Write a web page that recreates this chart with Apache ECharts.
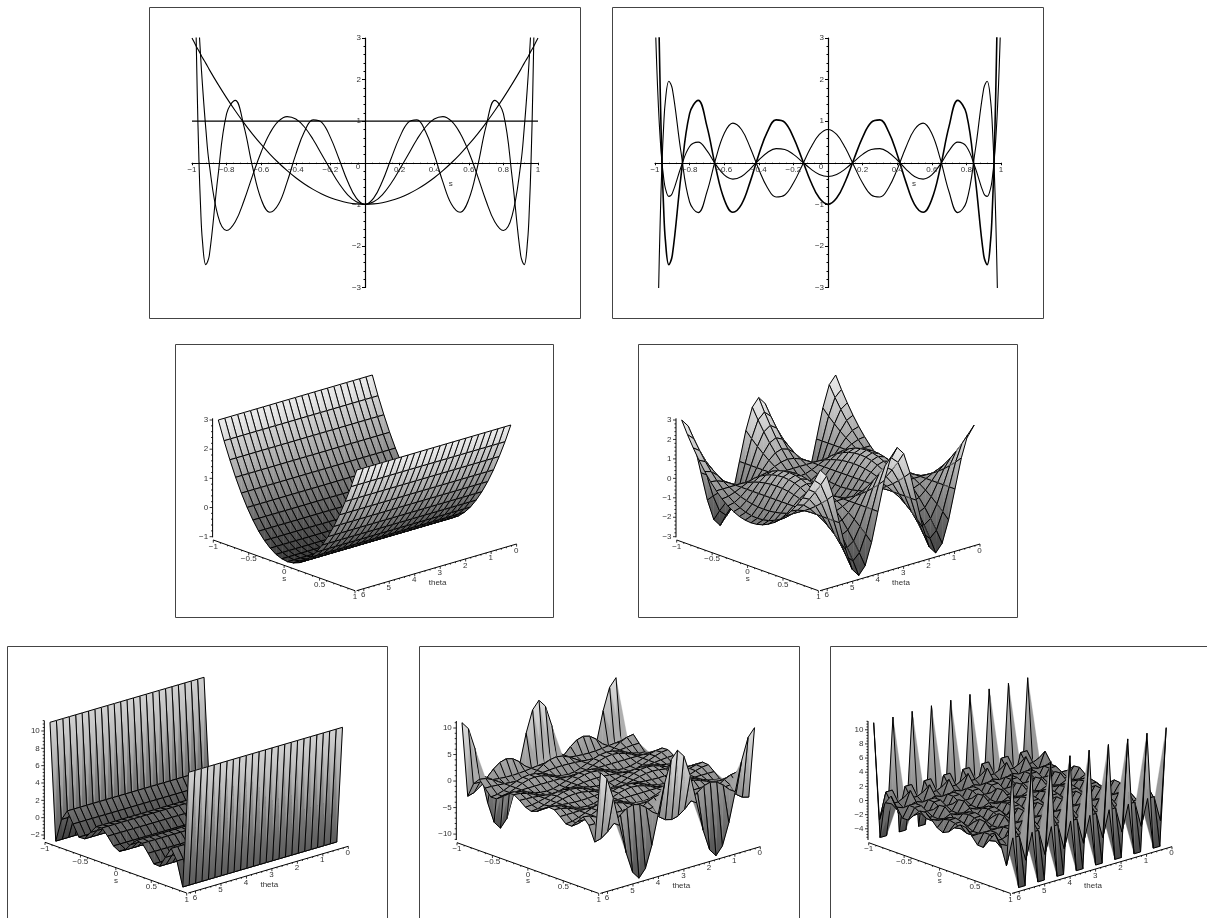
<!DOCTYPE html>
<html><head><meta charset="utf-8">
<style>html,body{margin:0;padding:0;background:#fff}#c{width:1207px;height:918px;filter:blur(0.3px)}</style>
<script src="https://cdn.jsdelivr.net/npm/echarts@6/dist/echarts.min.js"></script>
</head><body><div id="c"></div>
<script>
// ---- line plots: sample positions and curve values
const lineS = [-1,-0.99,-0.98,-0.97,-0.96,-0.95,-0.94,-0.92,-0.9,-0.85,-0.8,-0.75,-0.7,-0.65,-0.6,-0.55,-0.5,-0.45,-0.4,-0.35,-0.3,-0.25,-0.2,-0.15,-0.1,-0.05,0,0.05,0.1,0.15,0.2,0.25,0.3,0.35,0.4,0.45,0.5,0.55,0.6,0.65,0.7,0.75,0.8,0.85,0.9,0.92,0.94,0.95,0.96,0.97,0.98,0.99,1];
const flatLine = lineS.map(() => 1);
const parabola = [3,2.92,2.84,2.76,2.69,2.61,2.53,2.39,2.24,1.89,1.56,1.25,0.96,0.69,0.44,0.21,0,-0.19,-0.36,-0.51,-0.64,-0.75,-0.84,-0.91,-0.96,-0.99,-1,-0.99,-0.96,-0.91,-0.84,-0.75,-0.64,-0.51,-0.36,-0.19,0,0.21,0.44,0.69,0.96,1.25,1.56,1.89,2.24,2.39,2.53,2.61,2.69,2.76,2.84,2.92,3];
const waveSix = [7,5.93,4.95,4.07,3.27,2.55,1.9,0.81,-0.04,-1.28,-1.63,-1.42,-0.92,-0.31,0.26,0.71,1,1.11,1.05,0.86,0.56,0.2,-0.16,-0.5,-0.77,-0.94,-1,-0.94,-0.77,-0.5,-0.16,0.2,0.56,0.86,1.05,1.11,1,0.71,0.26,-0.31,-0.92,-1.42,-1.63,-1.28,-0.04,0.81,1.9,2.55,3.27,4.07,4.95,5.93,7];
const waveTen = [11,7.09,4.05,1.75,0.07,-1.1,-1.86,-2.45,-2.23,-0.33,1.18,1.5,0.88,-0.1,-0.88,-1.19,-1,-0.46,0.2,0.75,1.03,0.97,0.61,0.09,-0.45,-0.85,-1,-0.85,-0.45,0.09,0.61,0.97,1.03,0.75,0.2,-0.46,-1,-1.19,-0.88,-0.1,0.88,1.5,1.18,-0.33,-2.23,-2.45,-1.86,-1.1,0.07,1.75,4.05,7.09,11];
const rightFactors = [1, -0.8, 0.33];
const rightWidths = [1.6, 1.1, 1.1];

// ---- surfaces: grid positions and profile heights
const surfS = [-1,-0.917,-0.833,-0.75,-0.667,-0.583,-0.5,-0.417,-0.333,-0.25,-0.167,-0.083,0,0.083,0.167,0.25,0.333,0.417,0.5,0.583,0.667,0.75,0.833,0.917,1];
const surfTheta = [0,0.262,0.524,0.785,1.047,1.309,1.571,1.833,2.094,2.356,2.618,2.88,3.142,3.403,3.665,3.927,4.189,4.451,4.712,4.974,5.236,5.498,5.76,6.021,6.283];
const profileLow = [3,2.36,1.78,1.25,0.78,0.36,0,-0.31,-0.56,-0.75,-0.89,-0.97,-1,-0.97,-0.89,-0.75,-0.56,-0.31,0,0.36,0.78,1.25,1.78,2.36,3];
const profileHigh = [11,-2.46,0.29,1.5,0.23,-1.04,-1,-0.02,0.88,0.97,0.27,-0.61,-1,-0.61,0.27,0.97,0.88,-0.02,-1,-1.04,0.23,1.5,0.29,-2.46,11];
const thetaFlat = surfTheta.map(() => 1);
const thetaTwo = [1,0.866,0.5,0,-0.5,-0.866,-1,-0.866,-0.5,0,0.5,0.866,1,0.866,0.5,0,-0.5,-0.866,-1,-0.866,-0.5,0,0.5,0.866,1];
const thetaEight = [1,-0.5,-0.5,1,-0.5,-0.5,1,-0.5,-0.5,1,-0.5,-0.5,1,-0.5,-0.5,1,-0.5,-0.5,1,-0.5,-0.5,1,-0.5,-0.5,1];

// ---- tick labels
const lineXTicks = [-1,-0.8,-0.6,-0.4,-0.2,0,0.2,0.4,0.6,0.8,1];
const lineYTicks = [-3,-2,-1,0,1,2,3];
const sTicks = [-1,-0.5,0,0.5,1];
const thetaTicks = [0,1,2,3,4,5,6];
const zTicksA = [-1,0,1,2,3];
const zTicksB = [-3,-2,-1,0,1,2,3];
const zTicksC = [-2,0,2,4,6,8,10];
const zTicksD = [-10,-5,0,5,10];
const zTicksE = [-4,-2,0,2,4,6,8,10];

// ---- layout
const FONT = 'Liberation Sans';
const TXT = '#333';
const panels = [
  {f:[175,344,378,273], a:[218.3,420], sp:profileLow,  tp:thetaFlat,  z:[-1,3],        ticks:zTicksA, minor:0.2, wedge:false},
  {f:[638,344,379,273], a:[681.7,420], sp:profileLow,  tp:thetaTwo,   z:[-3,3],        ticks:zTicksB, minor:0.2, wedge:true},
  {f:[7,646,380,272],   a:[50,722.3],  sp:profileHigh, tp:thetaFlat,  z:[-2.46,11],    ticks:zTicksC, minor:0.4, wedge:false},
  {f:[419,646,380,272], a:[462,722.7], sp:profileHigh, tp:thetaTwo,   z:[-11,11],      ticks:zTicksD, minor:1,   wedge:true},
  {f:[830,646,377,272], a:[873.7,722.7],sp:profileHigh,tp:thetaEight, z:[-5.5,11],     ticks:zTicksE, minor:0.4, wedge:true}
];
const S_VEC = [138.5,50], T_VEC = [154,-45], Z_SPAN = 116.7;
const TWO_PI = 6.283;
const fmt = v => String(v).replace('-', '\u2212');

function project(p, s, t, z) {
  const k = Z_SPAN / (p.z[1] - p.z[0]);
  const a = (s + 1) / 2, b = (TWO_PI - t) / TWO_PI;
  return [p.a[0] - p.f[0] + a * S_VEC[0] + b * T_VEC[0],
          p.a[1] - p.f[1] + a * S_VEC[1] + b * T_VEC[1] + (p.z[1] - z) * k];
}
function grayOf(p, z) {
  const g = (z - p.z[0]) / (p.z[1] - p.z[0]);
  const l = Math.round(62 + 178 * Math.max(0, Math.min(1, g)));
  return 'rgb(' + l + ',' + l + ',' + l + ')';
}
const SHADE_SPREAD = 0.5;
function triFill(p, P, Z) {
  const d = (P[1][0]-P[0][0])*(P[2][1]-P[0][1]) - (P[2][0]-P[0][0])*(P[1][1]-P[0][1]);
  const zmin = Math.min(Z[0],Z[1],Z[2]), zmax = Math.max(Z[0],Z[1],Z[2]);
  const avg = (Z[0]+Z[1]+Z[2]) / 3;
  if (Math.abs(d) < 1e-6 || zmax - zmin < 1e-6) return grayOf(p, avg);
  const gx = ((Z[1]-Z[0])*(P[2][1]-P[0][1]) - (Z[2]-Z[0])*(P[1][1]-P[0][1])) / d;
  const gy = ((P[1][0]-P[0][0])*(Z[2]-Z[0]) - (P[2][0]-P[0][0])*(Z[1]-Z[0])) / d;
  const n = gx*gx + gy*gy;
  const lo = (zmin - Z[0]) / n, hi = (zmax - Z[0]) / n;
  return {type:'linear', global:true,
    x:P[0][0]+gx*lo, y:P[0][1]+gy*lo, x2:P[0][0]+gx*hi, y2:P[0][1]+gy*hi,
    colorStops:[{offset:0,color:grayOf(p,avg+(zmin-avg)*SHADE_SPREAD)},{offset:1,color:grayOf(p,avg+(zmax-avg)*SHADE_SPREAD)}]};
}
function surfaceRows(p) {
  const rows = [];
  const last = surfS.length - 1;
  for (let i = 0; i < last; i++)
    for (let j = 0; j < surfTheta.length - 1; j++) {
      const row = [surfS[i], surfS[i+1], surfTheta[j], surfTheta[j+1],
        p.sp[i]*p.tp[j], p.sp[i+1]*p.tp[j], p.sp[i+1]*p.tp[j+1], p.sp[i]*p.tp[j+1]];
      // the fill of the original also spans two s-steps at fixed theta
      const w = i === last - 1 ? i - 1 : i;
      if (p.wedge && w + 2 <= last && (i === last - 1 || i < last - 2)) row.push(surfS[w], p.sp[w]*p.tp[j], surfS[w+1], p.sp[w+1]*p.tp[j], surfS[w+2], p.sp[w+2]*p.tp[j]);
      else row.push(2,0,2,0,2,0);
      rows.push(row);
    }
  return rows;
}
function surfaceRender(p) {
  return function (params, api) {
    const s0=api.value(0), s1=api.value(1), t0=api.value(2), t1=api.value(3);
    const Z=[api.value(4),api.value(5),api.value(6),api.value(7)];
    const P=[project(p,s0,t0,Z[0]),project(p,s1,t0,Z[1]),project(p,s1,t1,Z[2]),project(p,s0,t1,Z[3])].map(q=>api.coord(q));
    const fa=triFill(p,[P[0],P[1],P[2]],[Z[0],Z[1],Z[2]]), fb=triFill(p,[P[0],P[2],P[3]],[Z[0],Z[2],Z[3]]);
    const kids=[];
    if (api.value(8) <= 1) {
      const W=[[8,9],[10,11],[12,13]].map(d=>api.coord(project(p,api.value(d[0]),t0,api.value(d[1]))));
      const c = grayOf(p,(api.value(9)+api.value(11)+api.value(13))/3);
      kids.push({type:'polygon', shape:{points:W}, style:{fill:c, stroke:c, lineWidth:0.3}});
    }
    kids.push({type:'polygon', shape:{points:[P[0],P[1],P[2]]}, style:{fill:fa, stroke:fa, lineWidth:0.5}});
    kids.push({type:'polygon', shape:{points:[P[0],P[2],P[3]]}, style:{fill:fb, stroke:fb, lineWidth:0.5}});
    kids.push({type:'polygon', shape:{points:P}, style:{fill:'none', stroke:'#000', lineWidth:1}});
    return {type:'group', children:kids};
  };
}
// axis rows: [kind, value, major]   kind 0=z 1=s 2=theta 3=frame lines
function axisRows(p) {
  const rows = [[3,0,0]];
  const near = (v, arr) => arr.some(t => Math.abs(t - v) < 1e-6);
  const nz = Math.round((p.z[1]-p.z[0]) / p.minor);
  const first = Math.ceil(p.z[0] / p.minor);
  for (let n = 0; n <= nz; n++) { const v = +((first + n) * p.minor).toFixed(3); if (v <= p.z[1] + 0.3) rows.push([0, v, near(v,p.ticks)?1:0]); }
  for (let n = 0; n <= 20; n++) { const v = +(-1 + n * 0.1).toFixed(2); rows.push([1, v, near(v,sTicks)?1:0]); }
  for (let n = 0; n <= 31; n++) { const v = +(n * 0.2).toFixed(2); rows.push([2, v, near(v,thetaTicks)?1:0]); }
  return rows;
}
function seg(a, b, w) { return {type:'line', shape:{x1:a[0],y1:a[1],x2:b[0],y2:b[1]}, style:{stroke:'#000', lineWidth:w||1}}; }
function lab(c, text, align) { return {type:'text', style:{x:c[0], y:c[1], text, fill:TXT, font:'8px "'+FONT+'"', align:align||'center', verticalAlign:'middle'}}; }
function axisRender(p) {
  const ox = p.a[0]-p.f[0], oy = p.a[1]-p.f[1];
  const sAt = v => { const a=(v+1)/2; return [ox-5+a*141.7, oy+120+a*50.7]; };
  const tAt = v => { const a=v/TWO_PI; return [ox+298.3-a*160, oy+124+a*46.7]; };
  const zAt = v => [ox-5.7, oy+(p.z[1]-v)*Z_SPAN/(p.z[1]-p.z[0])];
  return function (params, api) {
    const kind=api.value(0), v=api.value(1), major=api.value(2);
    const C = q => api.coord(q);
    const kids = [];
    if (kind === 3) {
      kids.push(seg(C([ox-5.7,oy-1.7]),C([ox-5.7,oy+117.3])));
      kids.push(seg(C(sAt(-1)),C(sAt(1))));
      kids.push(seg(C(tAt(TWO_PI)),C(tAt(0))));
      const mid = sAt(0), mt = tAt(3);
      kids.push(lab(C([mid[0]+0.2, mid[1]+13]),'s'));
      kids.push(lab(C([mt[0]-2.6, mt[1]+16.5]),'theta'));
    } else if (kind === 0) {
      const c = zAt(v);
      kids.push(seg(C(c),C([c[0]-(major?3:1.6),c[1]]),0.8));
      if (major) kids.push(lab(C([c[0]-4.5,c[1]]),fmt(v),'right'));
    } else if (kind === 1) {
      const c = sAt(v);
      kids.push(seg(C(c),C([c[0],c[1]+(major?2.6:1.3)]),0.8));
      if (major) kids.push(lab(C([c[0],c[1]+6.5]),fmt(v)));
    } else {
      const c = tAt(v);
      kids.push(seg(C(c),C([c[0],c[1]+(major?2.6:1.3)]),0.8));
      if (major) kids.push(lab(C([c[0]-0.5,c[1]+6.5]),fmt(v)));
    }
    return {type:'group', children:kids};
  };
}
// tick labels of the two line plots, placed on the zero lines through the plot's scales
function lineLabelRender(params, api) {
  const kind=api.value(0), v=api.value(1);
  const c = kind===0 ? api.coord([v,0]) : api.coord([0,v]);
  if (kind===0) return v===0 ? {type:'group',children:[]} : lab([c[0],c[1]+7],fmt(v));
  if (v===0) return lab([c[0]-7,c[1]+4],'0');
  return lab([c[0]-4,c[1]],fmt(v),'right');
}
const lineLabelRows = lineXTicks.map(v=>[0,v]).concat(lineYTicks.map(v=>[1,v]));

const boxes = [[149,7,431,311],[612,7,431,311]].concat(panels.map(p=>p.f));
const graphic = boxes.map(b => ({type:'rect', z:0, silent:true,
  shape:{x:b[0]+0.5,y:b[1]+0.5,width:b[2],height:b[3]+(b[1]>600?8:0)},
  style:{fill:'none',stroke:'#444',lineWidth:1}}));
graphic.push({type:'text',x:450.7,y:184,style:{text:'s',fill:TXT,font:'8px "'+FONT+'"',align:'center',verticalAlign:'middle'}});
graphic.push({type:'text',x:914,y:184,style:{text:'s',fill:TXT,font:'8px "'+FONT+'"',align:'center',verticalAlign:'middle'}});

const grid=[], xAxis=[], yAxis=[], series=[];
[[192,38],[655,38]].forEach((g,n) => {
  grid.push({left:g[0],top:g[1],width:346,height:249.5,show:false});
  xAxis.push({type:'value',gridIndex:n,min:-1,max:1,interval:0.2,splitLine:{show:false},
    axisLine:{show:true,onZero:true,lineStyle:{color:'#000',width:1.2}},
    axisTick:{show:true,length:2.5,lineStyle:{color:'#000'}},
    minorTick:{show:true,splitNumber:5,length:1.3,lineStyle:{color:'#000'}},
    axisLabel:{show:false}});
  yAxis.push({type:'value',gridIndex:n,min:-3,max:3,interval:1,splitLine:{show:false},
    axisLine:{show:true,onZero:true,lineStyle:{color:'#000',width:1.2}},
    axisTick:{show:true,length:3,lineStyle:{color:'#000'}},
    minorTick:{show:true,splitNumber:5,length:1.5,lineStyle:{color:'#000'}},
    axisLabel:{show:false}});
  series.push({type:'custom',xAxisIndex:n,yAxisIndex:n,coordinateSystem:'cartesian2d',clip:false,animation:false,silent:true,
    progressive:0,renderItem:lineLabelRender,data:lineLabelRows,encode:{x:1,y:1},z:5});
});
const lineStyle = w => ({color:'#000',width:w});
[flatLine,parabola,waveSix,waveTen].forEach(arr => series.push({type:'line',xAxisIndex:0,yAxisIndex:0,showSymbol:false,smooth:0.4,
  animation:false,clip:true,lineStyle:lineStyle(1.1),data:lineS.map((s,i)=>[s,arr[i]])}));
rightFactors.forEach((f,n) => series.push({type:'line',xAxisIndex:1,yAxisIndex:1,showSymbol:false,smooth:0.4,animation:false,clip:true,
  lineStyle:lineStyle(rightWidths[n]),data:lineS.map((s,i)=>[s,waveTen[i]*f])}));

panels.forEach((p,n) => {
  const gi = n + 2;
  grid.push({left:p.f[0],top:p.f[1],width:p.f[2],height:p.f[3],show:false});
  xAxis.push({type:'value',gridIndex:gi,min:0,max:p.f[2],show:false});
  yAxis.push({type:'value',gridIndex:gi,min:0,max:p.f[3],inverse:true,show:false});
  series.push({type:'custom',xAxisIndex:gi,yAxisIndex:gi,coordinateSystem:'cartesian2d',clip:false,animation:false,silent:true,
    progressive:0,renderItem:axisRender(p),data:axisRows(p),z:2});
  series.push({type:'custom',xAxisIndex:gi,yAxisIndex:gi,coordinateSystem:'cartesian2d',clip:false,animation:false,silent:true,
    progressive:0,renderItem:surfaceRender(p),data:surfaceRows(p),z:3});
});

const chart = echarts.init(document.getElementById('c'),null,{renderer:'canvas'});
chart.setOption({animation:false,backgroundColor:'#fff',tooltip:{show:false},graphic,grid,xAxis,yAxis,series});
</script></body></html>
